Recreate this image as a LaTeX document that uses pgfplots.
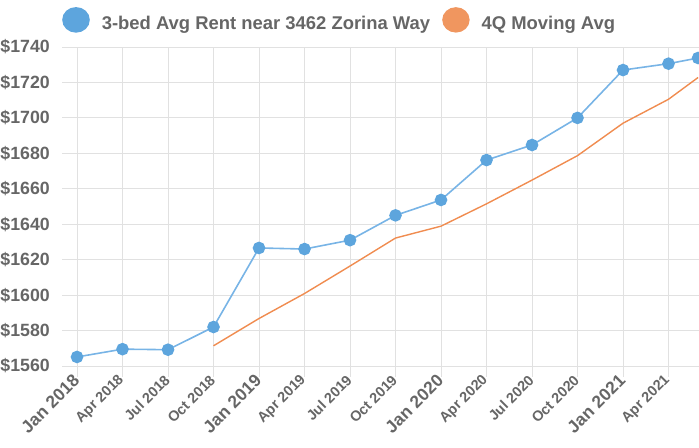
\documentclass[border=0pt]{standalone}
\usepackage{pgfplots}
\pgfplotsset{compat=1.18}
\usepackage{fontspec}
\setmainfont{Liberation Sans}
\definecolor{bl}{RGB}{93,165,221}
\definecolor{blline}{RGB}{120,180,230}
\definecolor{orl}{RGB}{240,140,80}
\definecolor{orc}{RGB}{240,150,95}
\definecolor{txt}{RGB}{102,102,102}
\definecolor{grd}{RGB}{225,225,225}
\newcommand{\jf}{\fontsize{17.5}{18}\selectfont}
\begin{document}
\begin{tikzpicture}
\useasboundingbox (0,0) rectangle (699bp,448bp);
\begin{axis}[
  at={(62bp,82bp)}, anchor=south west,
  width=637bp, height=319bp, scale only axis,
  xmin=-0.33, xmax=13.67, ymin=1560, ymax=1740,
  axis line style={draw=none},
  xtick={0,...,13}, ytick={1560,1580,...,1740},
  yticklabels={\$1560,\$1580,\$1600,\$1620,\$1640,\$1660,\$1680,\$1700,\$1720,\$1740},
  xticklabels={{\jf Jan 2018},Apr 2018,Jul 2018,Oct 2018,{\jf Jan 2019},Apr 2019,Jul 2019,Oct 2019,{\jf Jan 2020},Apr 2020,Jul 2020,Oct 2020,{\jf Jan 2021},Apr 2021},
  grid=major, major grid style={grd, line width=0.9bp},
  tick pos=left, tick align=outside,
  ytick style={draw=none},
  xtick style={grd, line width=0.9bp},
  major tick length=11bp,
  yticklabel style={font=\fontsize{17.8}{19}\selectfont\bfseries, text=txt, inner xsep=1bp, anchor=east},
  xticklabel style={font=\fontsize{14.5}{15}\selectfont\bfseries, text=txt, rotate=45, anchor=east, inner sep=1bp},
  legend columns=2,
  legend style={at={(0,1.085)}, anchor=west, draw=none, fill=none,
    font=\fontsize{18.5}{20}\selectfont\bfseries, text=txt,
    inner sep=0pt, nodes={inner sep=0pt},
    /tikz/every even column/.append style={column sep=12bp},
    /tikz/every odd column/.append style={column sep=12bp}},
]
\addplot[blline, line width=1.6bp, mark=*, mark size=5.5bp, mark options={fill=bl, draw=bl},
  legend image code/.code={\fill[bl] (13bp,0.35em) ellipse (13bp and 12bp);}]
coordinates {
(0,1565.1) (1,1569.5) (2,1569.2) (3,1582) (4,1626.6) (5,1626) (6,1631) (7,1645)
(8,1653.7) (9,1676.2) (10,1684.7) (11,1700) (12,1727) (13,1730.6) (13.65,1733.8)
};
\addlegendentry{3-bed Avg Rent near 3462 Zorina Way}
\addplot[orl, line width=1.4bp,
  legend image code/.code={\fill[orc] (13bp,0.35em) ellipse (13bp and 12bp);}]
coordinates {
(3,1571.4) (4,1586.8) (5,1600.9) (6,1616.4) (7,1632.2) (8,1638.9) (9,1651.5)
(10,1664.9) (11,1678.7) (12,1697) (13,1710.5) (13.65,1722.8)
};
\addlegendentry{4Q Moving Avg}
\end{axis}
\end{tikzpicture}
\end{document}
